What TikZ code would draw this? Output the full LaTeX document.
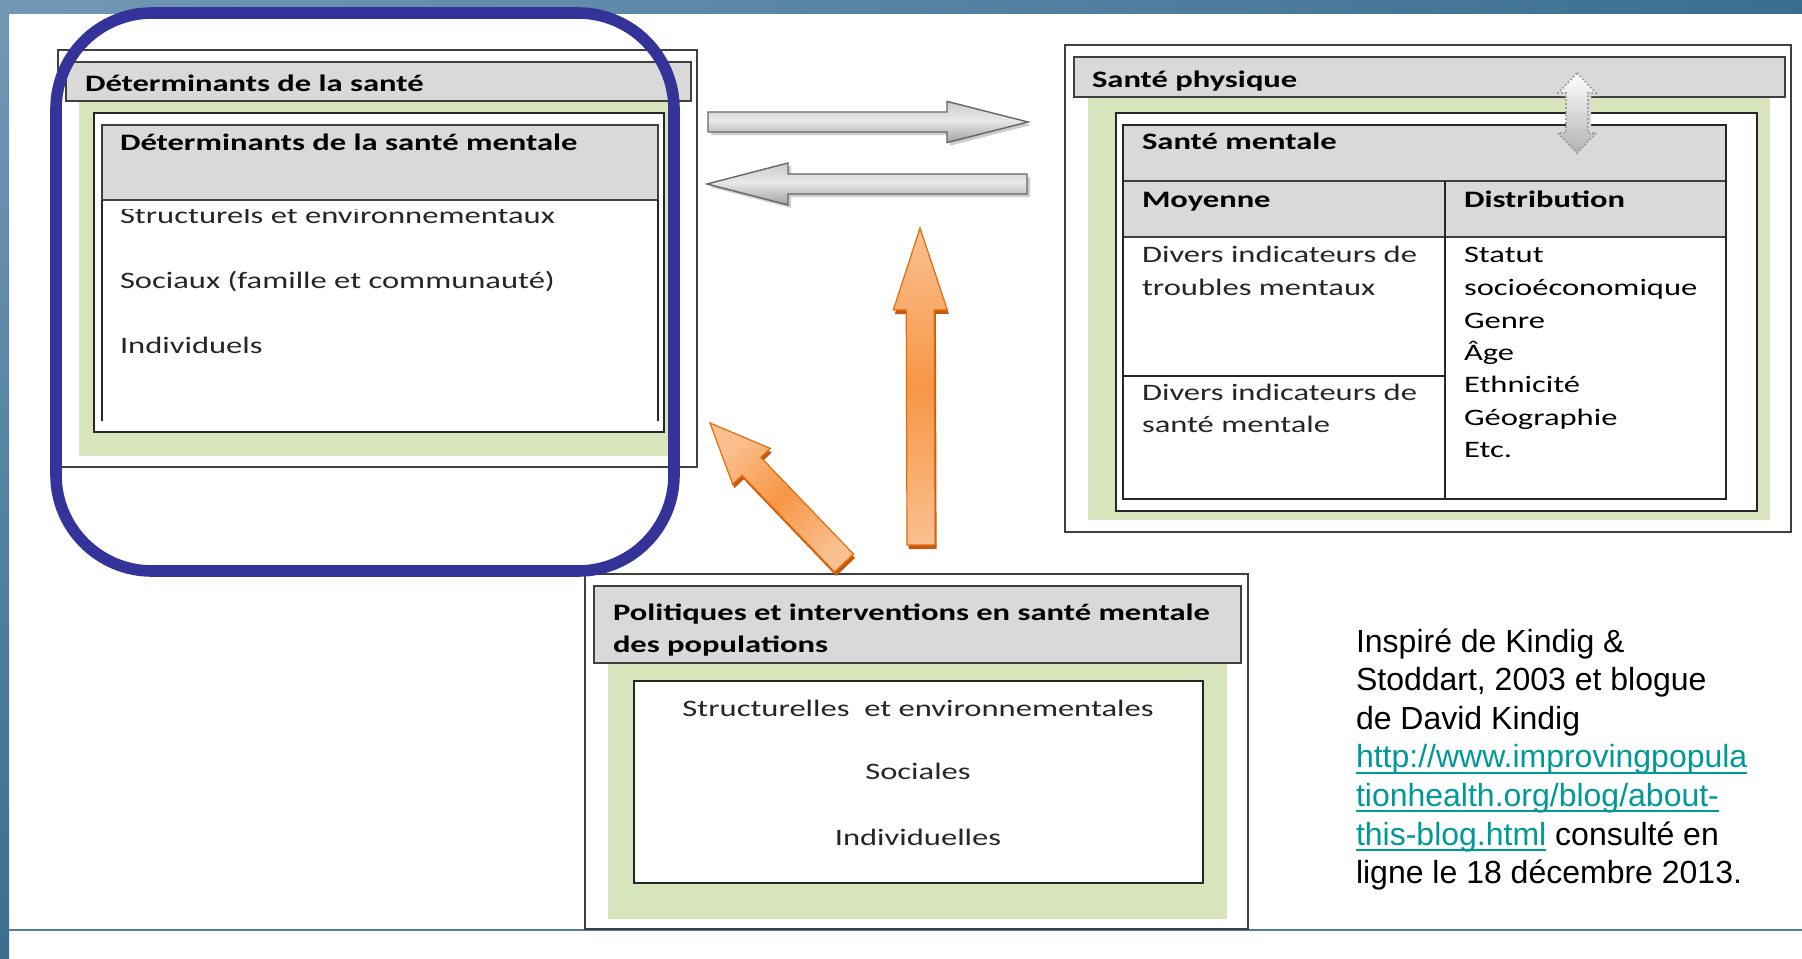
\documentclass[tikz,border=0pt]{standalone}
\usepackage{fontspec}
\setmainfont{Carlito}[FakeStretch=1.38]
\newfontfamily\arialf{Liberation Sans}
\usetikzlibrary{calc,fit}
\definecolor{hdrgray}{HTML}{D9D9D9}
\definecolor{olivegreen}{HTML}{D8E4BC}
\definecolor{frameline}{HTML}{404040}
\definecolor{ringblue}{HTML}{333399}
\definecolor{orangemain}{HTML}{F79646}
\definecolor{orangelight}{HTML}{FAC090}
\definecolor{orangeedge}{HTML}{E46C0A}
\definecolor{orangedark}{HTML}{C65911}
\definecolor{urlteal}{HTML}{009999}
\definecolor{bandA}{HTML}{7398B6}
\definecolor{bandB}{HTML}{3A6E8F}
\definecolor{bandline}{HTML}{4E7FA3}
\definecolor{gA}{HTML}{7A7A7A}
\definecolor{gB}{HTML}{9E9E9E}
\definecolor{gC}{HTML}{E8E8E8}
\definecolor{gD}{HTML}{CDCDCD}
\definecolor{gE}{HTML}{D4D4D4}
\pgfdeclareverticalshading{grayarrowsh}{100bp}{color(0bp)=(gA); color(24bp)=(gB); color(52bp)=(gC); color(74bp)=(gD); color(100bp)=(gE)}
\newcommand\ulx[1]{\setbox0=\hbox{#1}\rlap{\rule[-3pt]{\wd0}{1pt}}\box0}
% block arrow from #1 to #2: shaft half width #3, head half width #4, head length #5, style #6
\newcommand\blockarrow[6]{%
  \coordinate (hb) at ($(#2)!#5!(#1)$);
  \path[#6] ($(#1)!#3!90:(#2)$) -- ($(hb)!#3!-90:(#1)$) -- ($(hb)!#4!-90:(#1)$)
    -- (#2) -- ($(hb)!#4!90:(#1)$) -- ($(hb)!#3!90:(#1)$) -- ($(#1)!#3!-90:(#2)$) -- cycle;
}
\begin{document}
\begin{tikzpicture}[x=0.5pt,y=-0.5pt,
  every node/.style={inner sep=0pt,outer sep=0pt},
  frame/.style={draw=frameline,line width=0.8pt,fill=white},
  hdr/.style={draw=frameline,line width=0.9pt,fill=hdrgray},
  greenbg/.style={fill=olivegreen},
  innerbox/.style={draw=black!85,line width=0.9pt,fill=white},
  tline/.style={draw=black!85,line width=0.9pt},
  bodytxt/.style={anchor=base west,font=\fontsize{11.8pt}{14pt}\selectfont,text=black!85},
  boldtxt/.style={anchor=base west,font=\fontsize{11.8pt}{14pt}\selectfont\bfseries,text=black},
  midtxt/.style={anchor=base,font=\fontsize{11.8pt}{14pt}\selectfont,text=black!85},
  notetxt/.style={anchor=base west,font=\arialf\fontsize{16pt}{19pt}\selectfont,text=black},
  grayarrow/.style={shading=grayarrowsh,draw=black!60,line width=0.7pt},
  grayshadow/.style={fill=black!20,transform canvas={shift={(1.5pt,-1.5pt)}}},
  orangearrow/.style={top color=orangelight,bottom color=orangelight,middle color=orangemain,draw=orangeedge,line width=0.6pt},
  orangeshadow/.style={fill=orangedark,transform canvas={shift={(0.8pt,-2pt)}}},
  ring/.style={draw=ringblue,line width=5.8pt,rounded corners=48pt}
]
\useasboundingbox (0,0) rectangle (1802,958);
% ---------- background ----------
\fill[white] (0,0) rectangle (1802,958);
\shade[left color=bandA,right color=bandB] (0,0) rectangle (1802,13);
\shade[top color=bandA,bottom color=bandB] (0,0) rectangle (9,958);
\draw[bandline,line width=1pt] (9,930) -- (1802,930);

% ---------- left group: Determinants ----------
\node[frame,fit={(58,50) (697,467)}] (detframe) {};
\node[greenbg,fit={(79,101) (678,456)}] (detgreen) {};
\node[hdr,fit={(66,62) (691,101)}] (dethdr) {};
\node[boldtxt] (dettitle) at (85,91) {Déterminants de la santé};
\node[innerbox,fit={(94,113) (664,432)}] (detinner) {};
\node[hdr,fit={(102,125) (658,200)}] (dmhdr) {};
\draw[tline] (102,200) -- (102,421);
\draw[tline] (658,200) -- (658,421);
\node[boldtxt] (dmtitle) at (120,150) {Déterminants de la santé mentale};
\begin{scope}
  \clip (100,209) rectangle (656,240);
  \node[bodytxt] (dm1) at (120,223) {Structurels et environnementaux};
\end{scope}
\node[bodytxt] (dm2) at (120,288) {Sociaux (famille et communauté)};
\node[bodytxt] (dm3) at (120,353) {Individuels};

% ---------- right group: Sante physique ----------
\node[frame,fit={(1065,45) (1791,532)}] (spframe) {};
\node[greenbg,fit={(1088,97) (1770,520)}] (spgreen) {};
\node[hdr,fit={(1074,57) (1785,97)}] (sphdr) {};
\node[boldtxt] (sptitle) at (1092,87) {Santé physique};
\node[innerbox,fit={(1116,113) (1757,511)}] (spinner) {};
\node[hdr,fit={(1123,125) (1726,181)}] (smhdr) {};
\node[hdr,fit={(1123,181) (1726,237)}] (smhdr2) {};
\node[tline,fit={(1123,125) (1726,499)}] (smtable) {};
\draw[tline] (1445,181) -- (1445,499);
\draw[tline] (1123,376) -- (1445,376);
\node[boldtxt] (smtitle) at (1142,149) {Santé mentale};
\node[boldtxt] (smmoy) at (1142,207) {Moyenne};
\node[boldtxt] (smdist) at (1464,207) {Distribution};
\node[bodytxt] (ma1) at (1142,262) {Divers indicateurs de};
\node[bodytxt] (ma2) at (1142,295) {troubles mentaux};
\node[bodytxt] (mb1) at (1142,400) {Divers indicateurs de};
\node[bodytxt] (mb2) at (1142,432) {santé mentale};
\node[bodytxt,text=black] (d1) at (1464,262) {Statut};
\node[bodytxt,text=black] (d2) at (1464,295) {socioéconomique};
\node[bodytxt,text=black] (d3) at (1464,328) {Genre};
\node[bodytxt,text=black] (d4) at (1464,360) {Âge};
\node[bodytxt,text=black] (d5) at (1464,392) {Ethnicité};
\node[bodytxt,text=black] (d6) at (1464,425) {Géographie};
\node[bodytxt,text=black] (d7) at (1464,457) {Etc.};
% dotted double arrow
\coordinate (dtop) at (1577,73);
\coordinate (dbot) at (1577,153);
\path[fill=black!15,transform canvas={shift={(1.5pt,-1.5pt)}}]
  (dtop) -- ($(dtop)+(19,20)$) -- ($(dtop)+(11,20)$) -- ($(dbot)+(11,-20)$) -- ($(dbot)+(19,-20)$)
  -- (dbot) -- ($(dbot)+(-19,-20)$) -- ($(dbot)+(-11,-20)$) -- ($(dtop)+(-11,20)$) -- ($(dtop)+(-19,20)$) -- cycle;
\path[top color=white,bottom color=gray!60,draw=gray!75,densely dotted,line width=0.9pt]
  (dtop) -- ($(dtop)+(19,20)$) -- ($(dtop)+(11,20)$) -- ($(dbot)+(11,-20)$) -- ($(dbot)+(19,-20)$)
  -- (dbot) -- ($(dbot)+(-19,-20)$) -- ($(dbot)+(-11,-20)$) -- ($(dtop)+(-11,20)$) -- ($(dtop)+(-19,20)$) -- cycle;

% ---------- bottom group: Politiques ----------
\node[frame,fit={(585,574) (1248,929)}] (polframe) {};
\node[greenbg,fit={(608,663) (1227,919)}] (polgreen) {};
\node[hdr,fit={(594,586) (1241,663)}] (polhdr) {};
\node[boldtxt] (poltitle1) at (613,620) {Politiques et interventions en santé mentale};
\node[boldtxt] (poltitle2) at (613,652) {des populations};
\node[innerbox,fit={(634,681) (1203,883)}] (polinner) {};
\node[midtxt] (p1) at (918,716) {Structurelles\ \ et environnementales};
\node[midtxt] (p2) at (918,779) {Sociales};
\node[midtxt] (p3) at (918,845) {Individuelles};

% ---------- arrows ----------
\coordinate (g1s) at (708,122);  \coordinate (g1e) at (1028,122);
\coordinate (g2s) at (1027,184); \coordinate (g2e) at (707,184);
\blockarrow{g1s}{g1e}{5pt}{10.3pt}{40.5pt}{grayshadow}
\blockarrow{g1s}{g1e}{5pt}{10.3pt}{40.5pt}{grayarrow}
\blockarrow{g2s}{g2e}{5pt}{10.5pt}{40.5pt}{grayshadow}
\blockarrow{g2s}{g2e}{5pt}{10.5pt}{40.5pt}{grayarrow}
\coordinate (o1s) at (921,545);  \coordinate (o1e) at (920,228);
\blockarrow{o1s}{o1e}{7pt}{13.5pt}{41pt}{orangeshadow}
\blockarrow{o1s}{o1e}{7pt}{13.5pt}{41pt}{orangearrow}
\coordinate (o2s) at (844,563);  \coordinate (o2e) at (710,423);
\blockarrow{o2s}{o2e}{6.5pt}{13pt}{30pt}{orangeshadow}
\blockarrow{o2s}{o2e}{6.5pt}{13pt}{30pt}{orangearrow,shading angle=43.5}

% ---------- note ----------
\node[notetxt] (n1) at (1356,652) {Inspiré de Kindig \&};
\node[notetxt] (n2) at (1356,690.6) {Stoddart, 2003 et blogue};
\node[notetxt] (n3) at (1356,729.2) {de David Kindig};
\node[notetxt,text=urlteal] (n4) at (1356,767.8) {\ulx{http://www.improvingpopula}};
\node[notetxt,text=urlteal] (n5) at (1356,806.4) {\ulx{tionhealth.org/blog/about-}};
\node[notetxt] (n6) at (1356,845) {{\color{urlteal}\ulx{this-blog.html}} consulté en};
\node[notetxt] (n7) at (1356,883.6) {ligne le 18 décembre 2013.};

% ---------- highlight ring ----------
\node[ring,fit={(56,13) (674,571)}] (ringbox) {};
\end{tikzpicture}
\end{document}
